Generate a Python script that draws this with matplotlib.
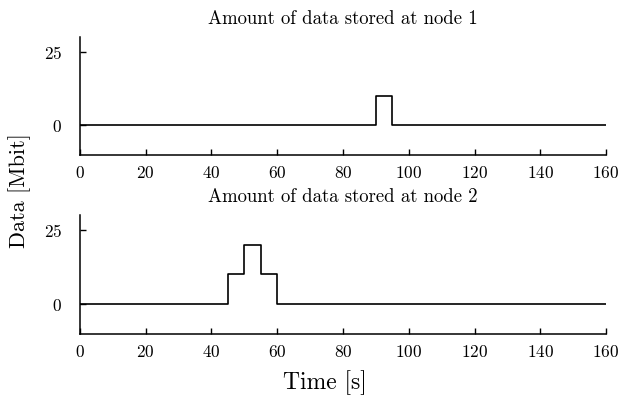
import matplotlib
matplotlib.use("Agg")
from matplotlib import pyplot as plt

# step data (time in s, data in Mbit), values hold until next time
node1_time = [0, 90, 95, 160]
node1_data = [0, 10, 0, 0]
node2_time = [0, 45, 50, 55, 60, 160]
node2_data = [0, 10, 20, 10, 0, 0]

titles = ["Amount of data stored at node 1", "Amount of data stored at node 2"]
x_ticks = list(range(0, 161, 20))
y_ticks = [0, 25]

plt.rcParams['font.family'] = 'serif'
plt.rcParams['font.serif'] = ['cmr10']
plt.rcParams['mathtext.fontset'] = 'cm'
plt.rcParams['axes.formatter.use_mathtext'] = True


def style_axis(ax, title):
    ax.set_title(title, fontsize=13.5, pad=9)
    ax.spines['top'].set_visible(False)
    ax.spines['right'].set_visible(False)
    ax.set_xlim(0, 160)
    ax.set_ylim(-10, 30)
    ax.set_xticks(x_ticks)
    ax.set_yticks(y_ticks)
    ax.tick_params(direction='in', length=4, width=1, labelsize=12.5)
    ax.tick_params(axis='x', pad=7)
    ax.tick_params(axis='y', pad=13)
    for s in ax.spines.values():
        s.set_linewidth(1.1)


fig = plt.figure(figsize=(6.22, 3.96), dpi=100)
ax1 = fig.add_axes([0.1286, 0.6086, 0.8457, 0.298])
ax2 = fig.add_axes([0.1286, 0.1566, 0.8457, 0.3005])

ax1.step(node1_time, node1_data, where='post', color='black', lw=1.2)
ax2.step(node2_time, node2_data, where='post', color='black', lw=1.2)
style_axis(ax1, titles[0])
style_axis(ax2, titles[1])

fig.text(0.032, 0.52, "Data [Mbit]", rotation=90, ha='center', va='center', fontsize=16)
fig.text(0.523, 0.033, "Time [s]", ha='center', va='center', fontsize=17)

fig.savefig("out.png", dpi=100)
